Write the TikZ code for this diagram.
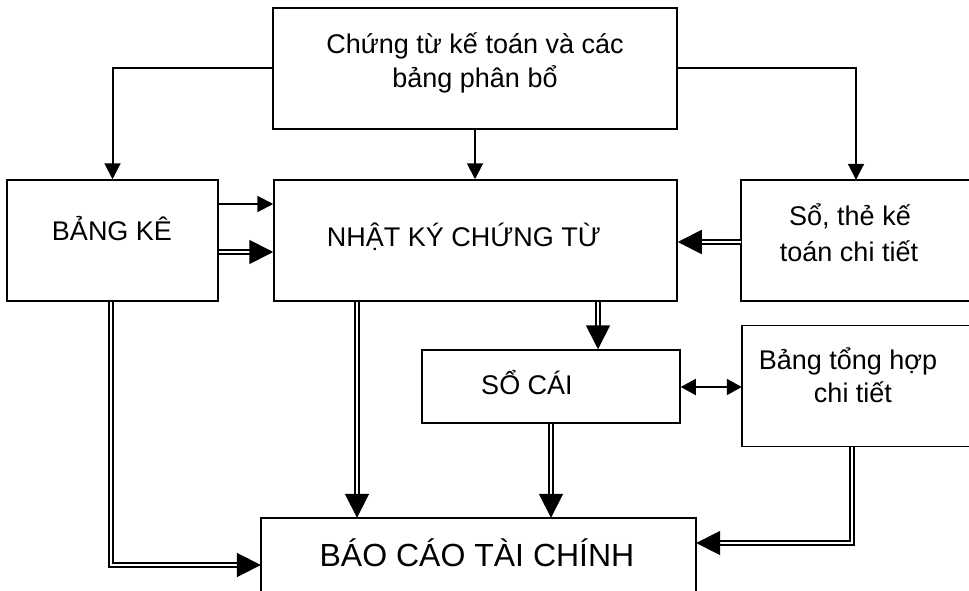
\documentclass[tikz,border=0pt]{standalone}
\usepackage{fontspec}
\setmainfont{Liberation Sans}
\usetikzlibrary{arrows.meta}
\begin{document}
\begin{tikzpicture}[x=1pt,y=-1pt,
  box/.style={draw,line width=1.5pt,rectangle,inner sep=0pt},
  openbox/.style={rectangle,inner sep=0pt},
  edge/.style={line width=1.5pt},
  txt/.style={anchor=base,inner sep=0pt,font=\fontsize{27}{30}\selectfont},
  bigtxt/.style={anchor=base,inner sep=0pt,font=\fontsize{32}{36}\selectfont},
  single/.style={line width=2pt,-{Triangle[length=16pt,width=16pt]}},
  both/.style={line width=2pt,{Triangle[length=15pt,width=16pt]}-{Triangle[length=15pt,width=16pt]}},
  dbl/.style={line width=1.8pt,double,double distance=2.6pt,-{Triangle[length=24pt,width=24pt]}}
]
\useasboundingbox (0,0) rectangle (969,591);
% boxes
\node[box,minimum width=404pt,minimum height=121pt] (top) at (475,68.5) {};
\node[box,minimum width=211pt,minimum height=121pt] (bk) at (112.5,240.5) {};
\node[box,minimum width=403pt,minimum height=121pt] (nk) at (475.5,240.5) {};
\node[openbox,minimum width=228pt,minimum height=121pt] (st) at (855,240.5) {};
\node[box,minimum width=258pt,minimum height=73pt] (sc) at (551,386.5) {};
\node[openbox,minimum width=227pt,minimum height=121pt] (bt) at (855.5,386) {};
\node[openbox,minimum width=435pt,minimum height=90pt] (bc) at (478.5,563) {};
\draw[edge] (st.north east) -- (st.north west) -- (st.south west) -- (st.south east);
\draw[edge] (bt.north east) -- (bt.north west) -- (bt.south west) -- (bt.south east);
\draw[edge] (bc.south west) -- (bc.north west) -- (bc.north east) -- (bc.south east);
% texts
\node[txt] (t1) at (475,54) {Chứng từ kế toán và các};
\node[txt] (t2) at (475,88) {bảng phân bổ};
\node[txt] (t3) at (112,240) {BẢNG KÊ};
\node[txt] (t4) at (464,246) {NHẬT KÝ CHỨNG TỪ};
\node[txt] (t5) at (850,225) {Sổ, thẻ kế};
\node[txt] (t6) at (849,261) {toán chi tiết};
\node[txt] (t7) at (527,394) {SỔ CÁI};
\node[txt] (t8) at (848,369) {Bảng tổng hợp};
\node[txt] (t9) at (853,402) {chi tiết};
\node[bigtxt] (t10) at (477,566) {BÁO CÁO TÀI CHÍNH};
% connectors
\draw[single] (top.west) -| (bk.north);
\draw[single] (top.south) -- (top.south |- nk.north);
\draw[single] (top.east) -| (st.north -| 856,0);
\draw[single] (bk.east |- 0,204) -- (nk.west |- 0,204);
\draw[dbl] (bk.east |- 0,252) -- (nk.west |- 0,252);
\draw[dbl] (st.west |- 0,242) -- (nk.east |- 0,242);
\draw[dbl] (nk.south -| 598,0) -- (sc.north -| 598,0);
\draw[both] (sc.east |- 0,387) -- (bt.west |- 0,387);
\draw[dbl] (nk.south -| 357,0) -- (bc.north -| 357,0);
\draw[dbl] (sc.south) -- (sc.south |- bc.north);
\draw[dbl] (bk.south -| 111,0) |- (bc.west |- 0,565);
\draw[dbl] (bt.south -| 852,0) |- (bc.east |- 0,543);
\end{tikzpicture}
\end{document}
